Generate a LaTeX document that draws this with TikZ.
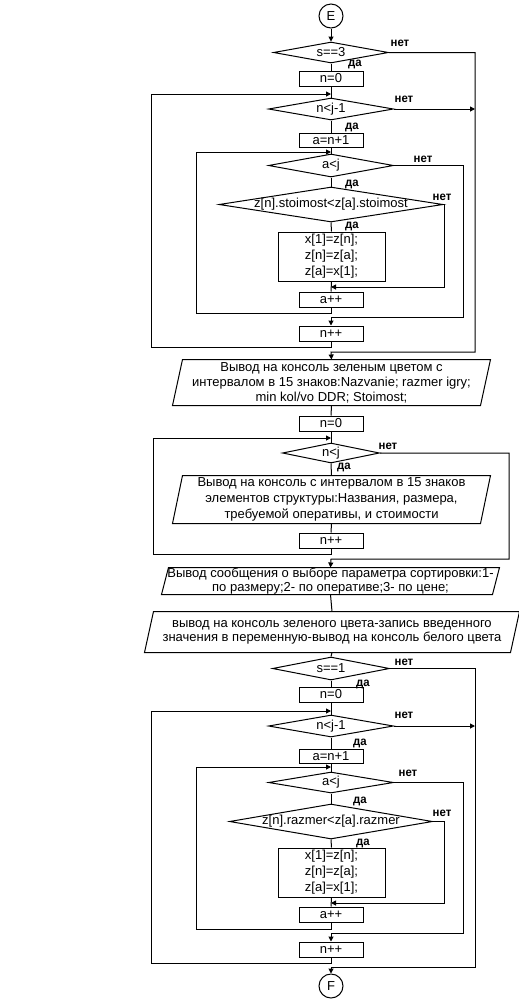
\documentclass[tikz,border=0pt]{standalone}
\usepackage{fontspec}
\setmainfont{Liberation Sans}
\newfontfamily\lblfont[FakeStretch=0.95]{Liberation Sans Bold}
\usetikzlibrary{shapes.geometric,arrows.meta}
\begin{document}
\begin{tikzpicture}[x=1pt,y=-1pt, line width=1pt,
  font=\fontsize{13}{15}\selectfont,
  blk/.style={draw, rectangle, inner sep=0pt, align=center},
  dia/.style={draw, diamond, inner sep=0pt},
  par/.style={rectangle, inner sep=0pt, align=center},
  con/.style={draw, circle, inner sep=0pt, minimum size=24pt},
  lbl/.style={font=\lblfont\fontsize{12}{12}\selectfont, inner sep=0pt},
  arr/.style={-{Triangle[length=5pt,width=5pt]}}]
\useasboundingbox (0,0) rectangle (519,1005);

% ---------- block 1 ----------
\node[con] (E) at (331,16) {E};
\node[dia, minimum width=115pt, minimum height=21pt] (d1) at (331,52.5) {\makebox[0pt]{s==3}};
\node[blk, minimum width=64pt, minimum height=15pt] (b1) at (331,78.5) {n=0};
\node[dia, minimum width=125pt, minimum height=22pt] (d2) at (331,109) {\makebox[0pt]{n<j-1}};
\node[blk, minimum width=64pt, minimum height=14pt] (b2) at (331,140) {a=n+1};
\node[dia, minimum width=125pt, minimum height=23pt] (d3) at (331,165.5) {\makebox[0pt]{a<j}};
\node[dia, minimum width=224pt, minimum height=35pt] (d4) at (331,204.5) {\makebox[0pt]{z[n].stoimost<z[a].stoimost}};
\node[blk, minimum width=107pt, minimum height=49pt, font=\fontsize{13}{16}\selectfont] (b3) at (331.5,256.5) {x[1]=z[n];\\z[n]=z[a];\\z[a]=x[1];};
\node[blk, minimum width=64pt, minimum height=15pt] (b4) at (331,299.5) {a++};
\node[blk, minimum width=64pt, minimum height=15pt] (b5) at (331,333.5) {n++};

\node[lbl] (l1n) at (400,43) {нет};
\node[lbl] (l1d) at (355,64) {да};
\node[lbl] (l2n) at (404,99) {нет};
\node[lbl] (l2d) at (352,127) {да};
\node[lbl] (l3n) at (423,159) {нет};
\node[lbl] (l3d) at (352,184) {да};
\node[lbl] (l4n) at (442,197) {нет};
\node[lbl] (l4d) at (352,226) {да};

\coordinate (XL1) at (151,0);
\coordinate (XL2) at (196,0);
\coordinate (XL3) at (153,0);
\coordinate (XR1) at (444,0);
\coordinate (XR2) at (463,0);
\coordinate (XR3) at (475,0);
\coordinate (XR4) at (509,0);

\coordinate (jn1) at (331,94);
\coordinate (ja1) at (331,152);
\coordinate (kd4) at (331,287);
\coordinate (kd3) at (331,317);
\coordinate (kd1) at (331,352);

\draw[arr] (E.south) -- (d1.north);
\draw (d1.south) -- (b1.north);
\draw (b1.south) -- (d2.north);
\draw (d2.south) -- (b2.north);
\draw (b2.south) -- (d3.north);
\draw (d3.south) -- (d4.north);
\draw (d4.south) -- (b3.north);
\draw (b3.south) -- (b4.north);
\draw[arr] (b4.south) -- ++(0,6) -| (XL2 |- ja1) -- (ja1);
\draw[arr] (d4.east) -| (XR1 |- kd4) -- (kd4);
\draw[arr] (d3.east) -| (XR2 |- kd3) -- (kd3) -- (b5.north);
\draw[arr] (b5.south) -- ++(0,6) -| (XL1 |- jn1) -- (jn1);
\draw[arr] (d2.east) -- (XR3 |- d2.east);

% ---------- block 2 ----------
\node[par, minimum width=307pt, minimum height=45pt] (p1) at (331.5,382.5)
  {Вывод на консоль зеленым цветом с\\интервалом в 15 знаков:Nazvanie; razmer igry;\\min kol/vo DDR; Stoimost;};
\node[blk, minimum width=64pt, minimum height=15pt] (b6) at (331,423.5) {n=0};
\node[dia, minimum width=97pt, minimum height=20pt] (d5) at (331,453) {\makebox[0pt]{n<j}};
\node[par, minimum width=307pt, minimum height=47pt, font=\fontsize{13}{16}\selectfont] (p2) at (331.5,499.5)
  {Вывод на консоль с интервалом в 15 знаков\\элементов структуры:Названия, размера,\\требуемой оперативы, и стоимости};
\node[blk, minimum width=64pt, minimum height=15pt] (b7) at (331,540.5) {n++};
\node[par, minimum width=330pt, minimum height=26pt, font=\fontsize{13}{13.5}\selectfont] (p3) at (330.5,581)
  {Вывод сообщения о выборе параметра сортировки:1-\\по размеру;2- по оперативе;3- по цене;};
\node[par, minimum width=365pt, minimum height=40pt, font=\fontsize{13}{14}\selectfont] (p4) at (332,632)
  {вывод на консоль зеленого цвета-запись введенного\\значения в переменную-вывод на консоль белого цвета};

\draw ([xshift=5pt]p1.north west) -- ([xshift=5pt]p1.north east) -- ([xshift=-5pt]p1.south east) -- ([xshift=-5pt]p1.south west) -- cycle;
\draw ([xshift=5pt]p2.north west) -- ([xshift=5pt]p2.north east) -- ([xshift=-5pt]p2.south east) -- ([xshift=-5pt]p2.south west) -- cycle;
\draw ([xshift=3.5pt]p3.north west) -- ([xshift=3.5pt]p3.north east) -- ([xshift=-3.5pt]p3.south east) -- ([xshift=-3.5pt]p3.south west) -- cycle;
\draw ([xshift=4.5pt]p4.north west) -- ([xshift=4.5pt]p4.north east) -- ([xshift=-4.5pt]p4.south east) -- ([xshift=-4.5pt]p4.south west) -- cycle;

\draw[arr] (d1.east) -| (XR3 |- kd1) -- (kd1) -- (p1.north);

\node[lbl] (l5n) at (388,446) {нет};
\node[lbl] (l5d) at (344,467) {да};

\coordinate (jn2) at (331,438);
\coordinate (kd5) at (331,559);

\draw (p1.south) -- (b6.north);
\draw (b6.south) -- (d5.north);
\draw (d5.south) -- (p2.north);
\draw (p2.south) -- (b7.north);
\draw[arr] (b7.south) -- ++(0,6) -| (XL3 |- jn2) -- (jn2);
\draw[arr] (d5.east) -| (XR4 |- kd5) -- (kd5) -- (p3.north);
\draw (p3.south) -- (p4.north);

% ---------- block 3 ----------
\node[dia, minimum width=117pt, minimum height=23pt] (d6) at (331,668.5) {\makebox[0pt]{s==1}};
\node[blk, minimum width=64pt, minimum height=15pt] (b8) at (331,694.5) {n=0};
\node[dia, minimum width=125pt, minimum height=22pt] (d7) at (331,726) {\makebox[0pt]{n<j-1}};
\node[blk, minimum width=64pt, minimum height=14pt] (b9) at (331,756) {a=n+1};
\node[dia, minimum width=125pt, minimum height=21pt] (d8) at (331,782.5) {\makebox[0pt]{a<j}};
\node[dia, minimum width=203pt, minimum height=35pt] (d9) at (331,821.5) {\makebox[0pt]{z[n].razmer<z[a].razmer}};
\node[blk, minimum width=107pt, minimum height=49pt, font=\fontsize{13}{16}\selectfont] (b10) at (331.5,872.5) {x[1]=z[n];\\z[n]=z[a];\\z[a]=x[1];};
\node[blk, minimum width=64pt, minimum height=15pt] (b11) at (331,914.5) {a++};
\node[blk, minimum width=64pt, minimum height=15pt] (b12) at (331,949.5) {n++};
\node[con] (F) at (331,986) {F};

\node[lbl] (l6n) at (404,662) {нет};
\node[lbl] (l6d) at (363,684) {да};
\node[lbl] (l7n) at (404,715) {нет};
\node[lbl] (l7d) at (360,743) {да};
\node[lbl] (l8n) at (408,773) {нет};
\node[lbl] (l8d) at (360,801) {да};
\node[lbl] (l9n) at (442,813) {нет};
\node[lbl] (l9d) at (363,843) {да};

\coordinate (jn3) at (331,711);
\coordinate (ja3) at (331,767);
\coordinate (kd9) at (331,903);
\coordinate (kd8) at (331,933);
\coordinate (kd6) at (331,967);

\draw (p4.south) -- (d6.north);
\draw (d6.south) -- (b8.north);
\draw (b8.south) -- (d7.north);
\draw (d7.south) -- (b9.north);
\draw (b9.south) -- (d8.north);
\draw (d8.south) -- (d9.north);
\draw (d9.south) -- (b10.north);
\draw (b10.south) -- (b11.north);
\draw[arr] (b11.south) -- ++(0,7) -| (XL2 |- ja3) -- (ja3);
\draw[arr] (d9.east) -| (XR1 |- kd9) -- (kd9);
\draw[arr] (d8.east) -| (XR2 |- kd8) -- (kd8) -- (b12.north);
\draw[arr] (b12.south) -- ++(0,6) -| (XL1 |- jn3) -- (jn3);
\draw[arr] (d7.east) -- (XR3 |- d7.east);
\draw[arr] (d6.east) -| (XR3 |- kd6) -- (kd6) -- (F.north);
\end{tikzpicture}
\end{document}
